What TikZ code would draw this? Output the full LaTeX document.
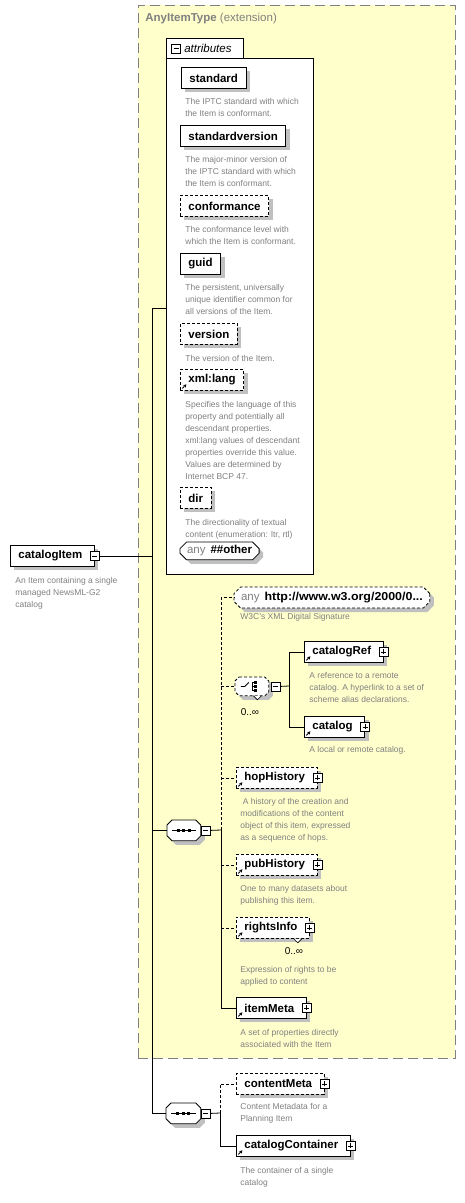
\documentclass[tikz,border=0pt]{standalone}
\usepackage{fontspec}
\setmainfont{Liberation Sans}
\usetikzlibrary{arrows.meta,positioning,shapes.misc,shadows}
\definecolor{extfill}{RGB}{255,255,204}
\definecolor{descgray}{RGB}{128,128,128}
\definecolor{shadegray}{RGB}{192,192,192}
\newcommand{\pmgap}{\hspace*{4pt}}
% octagon round a named node: node, cut, shift
\newcommand{\octpath}[3]{([shift={(#3)},xshift=#2]#1.north west) -- ([shift={(#3)},xshift=-#2]#1.north east)
  -- ([shift={(#3)},yshift=-#2]#1.north east) -- ([shift={(#3)},yshift=#2]#1.south east)
  -- ([shift={(#3)},xshift=-#2]#1.south east) -- ([shift={(#3)},xshift=#2]#1.south west)
  -- ([shift={(#3)},yshift=#2]#1.south west) -- ([shift={(#3)},yshift=-#2]#1.north west) -- cycle}
\newcommand{\seqicon}[1]{%
  \draw ([xshift=5pt]#1.west) -- ([xshift=-5pt]#1.east);
  \fill ([shift={(-7pt,-1.5pt)}]#1.center) rectangle ++(3pt,3pt);
  \fill ([shift={(-1.5pt,-1.5pt)}]#1.center) rectangle ++(3pt,3pt);
  \fill ([shift={(4pt,-1.5pt)}]#1.center) rectangle ++(3pt,3pt);}
\newcommand{\chcicon}[1]{%
  \draw ([xshift=-11pt]#1.center) -- ++(4pt,0pt) -- ++(4pt,4pt);
  \draw ([shift={(0pt,-4pt)}]#1.center) -- ++(0pt,8pt);
  \draw ([shift={(0pt,4pt)}]#1.center) -- ++(3pt,0pt);
  \draw (#1.center) -- ++(3pt,0pt);
  \draw ([shift={(0pt,-4pt)}]#1.center) -- ++(3pt,0pt);
  \fill ([shift={(2.5pt,2.5pt)}]#1.center) rectangle ++(3pt,3pt);
  \fill ([shift={(2.5pt,-1.5pt)}]#1.center) rectangle ++(3pt,3pt);
  \fill ([shift={(2.5pt,-5.5pt)}]#1.center) rectangle ++(3pt,3pt);}
\tikzset{
  elem/.style={
    draw, fill=white, anchor=north west, font=\fontsize{11.5}{13}\selectfont\bfseries,
    minimum height=21pt, inner xsep=8pt, inner ysep=0pt,
    drop shadow={shadow xshift=4pt, shadow yshift=-4pt, fill=shadegray, opacity=1}
  },
  opt/.style={dash pattern=on 3pt off 2pt},
  ref/.style={path picture={
    \draw[-{Stealth[length=3pt,width=3.5pt]}, line width=0.9pt]
      ([shift={(2pt,2pt)}]path picture bounding box.south west) -- ++(4pt,4pt);}},
  anybox/.style={elem, chamfered rectangle, chamfered rectangle xsep=3pt, inner xsep=4pt},
  grp/.style={anchor=north west, minimum height=20pt, inner sep=0pt},
  pm/.style={draw, fill=white, minimum size=9pt, inner sep=0pt, line width=0.7pt},
  minus/.style={pm, path picture={
    \draw ([xshift=2pt]path picture bounding box.west) -- ([xshift=-2pt]path picture bounding box.east);}},
  plus/.style={pm, path picture={
    \draw ([xshift=2pt]path picture bounding box.west) -- ([xshift=-2pt]path picture bounding box.east);
    \draw ([yshift=2pt]path picture bounding box.south) -- ([yshift=-2pt]path picture bounding box.north);}},
  desc/.style={font=\fontsize{8.5}{12}\selectfont, text=descgray, align=left, inner sep=0pt},
  mult/.style={font=\fontsize{10}{12}\selectfont, inner sep=0pt},
  wire/.style={line width=0.8pt},
  optwire/.style={wire, dash pattern=on 3pt off 2pt}
}

\begin{document}
\begin{tikzpicture}[x=1pt, y=-1pt, line width=0.8pt, node distance=9pt]
  \useasboundingbox (0,0) rectangle (465,1203);

  % --- extension frame --------------------------------------------------
  \node[draw=descgray, fill=extfill, dash pattern=on 10pt off 5pt, anchor=north west,
        minimum width=317pt, minimum height=1053pt] (ext) at (138,5) {};
  \node[anchor=west, text=descgray, font=\fontsize{11.5}{13}\selectfont, inner sep=0pt]
    (exttitle) at (145,19) {\textbf{AnyItemType} (extension)};

  % --- attributes -------------------------------------------------------
  \node[draw, fill=white, anchor=north west, minimum width=147pt, minimum height=516pt] (attr) at (166,58) {};
  \node[fill=white, anchor=south west, minimum width=77pt, minimum height=19.5pt, inner sep=0pt] (attrtab) at (166,58.5) {};
  \draw (attrtab.south west) -- (attrtab.north west) -- (attrtab.north east) -- (attrtab.south east);
  \node[minus] (attrpm) at (176,48.5) {};
  \node[right=3pt of attrpm, inner sep=0pt, font=\fontsize{11.5}{13}\selectfont\itshape] (attrlbl) {attributes};

  \node[elem] (std) at (181,67) {standard};
  \node[desc, below right=9pt and 4pt of std.south west] (stdd) {The IPTC standard with which\\the Item is conformant.};
  \node[elem] (stdv) at (180,125) {standardversion};
  \node[desc, below right=9pt and 5pt of stdv.south west] (stdvd) {The major-minor version of\\the IPTC standard with which\\the Item is conformant.};
  \node[elem, opt] (conf) at (180,195) {conformance};
  \node[desc, below right=9pt and 5pt of conf.south west] (confd) {The conformance level with\\which the Item is conformant.};
  \node[elem] (guid) at (180,253) {guid};
  \node[desc, below right=9pt and 5pt of guid.south west] (guidd) {The persistent, universally\\unique identifier common for\\all versions of the Item.};
  \node[elem, opt] (ver) at (180,323) {version};
  \node[desc, below right=10pt and 5pt of ver.south west] (verd) {The version of the Item.};
  \node[elem, opt, ref] (lang) at (180,369) {xml:lang};
  \node[desc, below right=10pt and 5pt of lang.south west] (langd) {Specifies the language of this\\property and potentially all\\descendant properties.\\xml:lang values of descendant\\properties override this value.\\Values are determined by\\Internet BCP 47.};
  \node[elem, opt] (dir) at (180,487) {dir};
  \node[desc, below right=10pt and 5pt of dir.south west] (dird) {The directionality of textual\\content (enumeration: ltr, rtl)};
  \node[anybox, minimum height=17pt] (anyo) at (183,545) {\textcolor{descgray}{\mdseries any}\hspace{5pt}\#\#other};

  % --- catalogItem ------------------------------------------------------
  \node[elem] (ci) at (10,545) {catalogItem\pmgap};
  \node[minus] (cipm) at (ci.east) {};
  \node[desc, below right=10pt and 5pt of ci.south west] (cid) {An Item containing a single\\managed NewsML-G2\\catalog};

  % --- first sequence ---------------------------------------------------
  \node[anybox, opt] (sig) at (237,590) {\textcolor{descgray}{\mdseries any}\hspace{5pt}\scalebox{1.08}[1]{http://www.w3.org/2000/0...}};
  \node[desc, below right=8pt and 3pt of sig.south west] (sigd) {W3C's XML Digital Signature};

  \node[grp, minimum width=33pt, minimum height=18pt] (chc) at (235,677) {};
  \fill[shadegray] \octpath{chc}{4pt}{4pt,-4pt};
  \draw[fill=white, opt] \octpath{chc}{4pt}{0pt,0pt};
  \chcicon{chc}
  \draw[line width=0.6pt, fill=white] ([xshift=1.5pt]chc.south) -- ++(4pt,-4pt) -- ++(4pt,4pt);
  \node[minus, right=2pt of chc.east, anchor=west] (chcpm) {};
  \node[mult] (chcm) at (250,712) {0..∞};

  \node[elem, ref] (cref) at (304,641) {catalogRef\pmgap};
  \node[plus] (crefpm) at (cref.east) {};
  \node[desc, below right=9pt and 5pt of cref.south west] (crefd) {A reference to a remote\\catalog. A hyperlink to a set of\\scheme alias declarations.};
  \node[elem, ref] (cat) at (304,716) {catalog\pmgap};
  \node[plus] (catpm) at (cat.east) {};
  \node[desc, below right=8pt and 5pt of cat.south west] (catd) {A local or remote catalog.};

  \node[elem, opt, ref] (hop) at (236,767) {hopHistory\pmgap};
  \node[plus] (hoppm) at (hop.east) {};
  \node[desc, below right=9pt and 4pt of hop.south west] (hopd) {\ A history of the creation and\\modifications of the content\\object of this item, expressed\\as a sequence of hops.};
  \node[elem, opt, ref] (pub) at (236,854) {pubHistory\pmgap};
  \node[plus] (pubpm) at (pub.east) {};
  \node[desc, below right=9pt and 4pt of pub.south west] (pubd) {One to many datasets about\\publishing this item.};
  \node[elem, opt, ref] (rig) at (236,917) {rightsInfo\pmgap};
  \node[plus] (rigpm) at (rig.east) {};
  \draw[line width=0.6pt, fill=white] ([xshift=-16pt]rig.south east) -- ++(4pt,-4pt) -- ++(4pt,4pt);
  \node[mult] (rigm) at (294,951) {0..∞};
  \node[desc, below right=27pt and 4pt of rig.south west] (rigd) {Expression of rights to be\\applied to content};
  \node[elem, ref] (im) at (236,997) {itemMeta\pmgap};
  \node[plus] (impm) at (im.east) {};
  \node[desc, below right=10pt and 4pt of im.south west] (imd) {A set of properties directly\\associated with the Item};

  \node[grp, minimum width=33pt] (seqa) at (167,820) {};
  \fill[shadegray] \octpath{seqa}{5pt}{4pt,-4pt};
  \draw[fill=white] \octpath{seqa}{5pt}{0pt,0pt};
  \seqicon{seqa}
  \node[minus, anchor=west] (seqapm) at (seqa.east) {};

  % --- second sequence --------------------------------------------------
  \node[grp, minimum width=34pt] (seqb) at (166,1103) {};
  \fill[shadegray] \octpath{seqb}{5pt}{4pt,-4pt};
  \draw[fill=white] \octpath{seqb}{5pt}{0pt,0pt};
  \seqicon{seqb}
  \node[minus, anchor=west] (seqbpm) at (seqb.east) {};
  \node[elem, opt] (cm) at (236,1073) {contentMeta\pmgap};
  \node[plus] (cmpm) at (cm.east) {};
  \node[desc, below right=8pt and 4pt of cm.south west] (cmd) {Content Metadata for a\\Planning Item};
  \node[elem, ref] (cc) at (236,1135) {catalogContainer\pmgap};
  \node[plus] (ccpm) at (cc.east) {};
  \node[desc, below right=10pt and 4pt of cc.south west] (ccd) {The container of a single\\catalog};

  % --- connectors -------------------------------------------------------
  \coordinate (trunk) at (152,308);
  \coordinate (busa) at (221,830);
  \coordinate (busc) at (289,686);
  \coordinate (busb) at (220,1113);

  \draw[wire] (cipm.east) -- (cipm.east -| trunk);
  \draw[wire] (attr.west |- trunk) -- (trunk) -- (trunk |- seqb.west) -- (seqb.west);
  \draw[wire] (seqa.west -| trunk) -- (seqa.west);

  \draw[wire] (seqapm.east) -- (busa);
  \draw[optwire] (busa) -- (busa |- sig.west) -- (sig.west);
  \draw[optwire] (chc.west -| busa) -- (chc.west);
  \draw[optwire] (hop.west -| busa) -- (hop.west);
  \draw[optwire] (pub.west -| busa) -- (pub.west);
  \draw[optwire] (rig.west -| busa) -- (rig.west);
  \draw[wire] (busa) -- (busa |- im.west) -- (im.west);

  \draw[wire] (chcpm.east) -- (busc);
  \draw[wire] (cref.west) -- (cref.west -| busc) -- (cat.west -| busc) -- (cat.west);

  \draw[wire] (seqbpm.east) -- (busb);
  \draw[optwire] (busb) -- (busb |- cm.west) -- (cm.west);
  \draw[wire] (busb) -- (busb |- cc.west) -- (cc.west);
\end{tikzpicture}
\end{document}
